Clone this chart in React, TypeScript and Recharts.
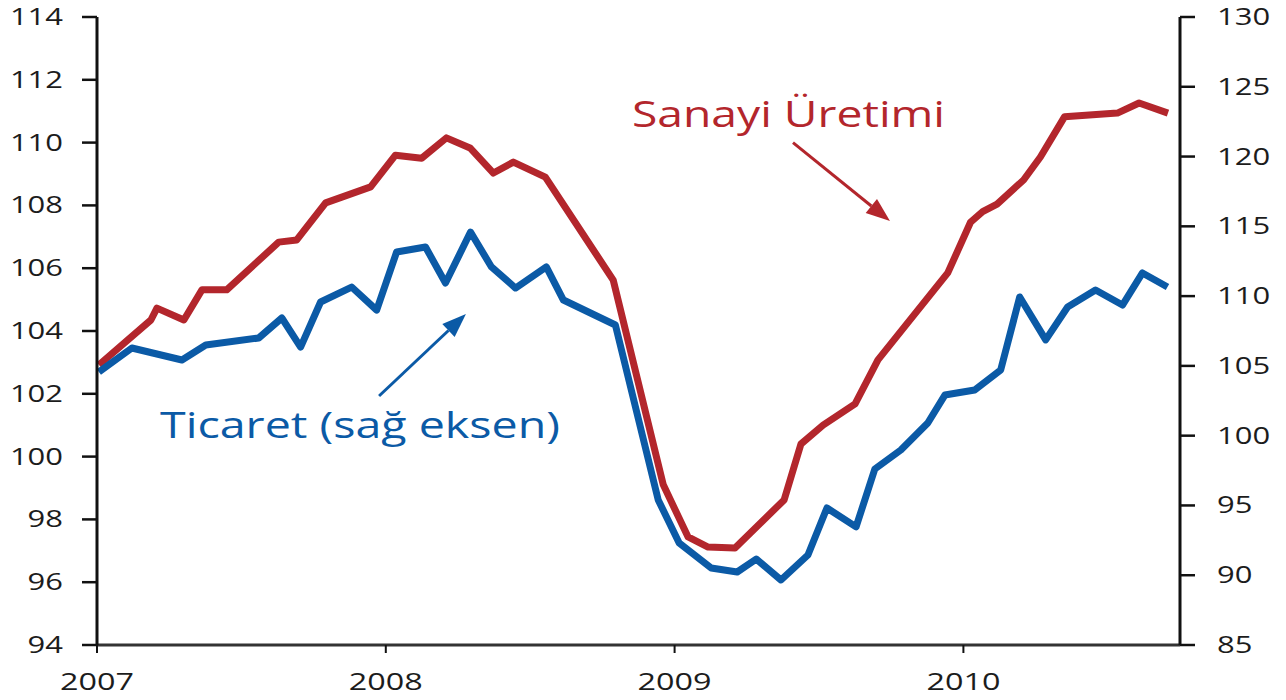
import React from "react";
import {
  LineChart,
  Line,
  XAxis,
  YAxis,
  ReferenceLine,
} from "recharts";

/* ---------------- DATA ---------------- */
// months since Jan 2007 and values
const sanayiMonths = [
  0.08, 2.24, 2.49, 3.61, 4.36, 5.39, 7.55, 8.3, 9.5, 11.37, 12.4, 13.49,
  14.52, 15.5, 16.47, 17.3, 18.63, 21.45, 23.53, 24.56, 25.39, 26.51, 28.55,
  29.25, 30.17, 31.5, 32.45, 35.35, 36.3, 36.8, 37.4, 38.5, 39.2, 40.2, 42.4,
  43.3, 44.5,
];
const sanayiValues = [
  102.92, 104.35, 104.73, 104.35, 105.31, 105.31, 106.83, 106.9, 108.08,
  108.59, 109.6, 109.5, 110.15, 109.83, 109.03, 109.38, 108.9, 105.62, 99.1,
  97.44, 97.12, 97.09, 98.62, 100.4, 101.0, 101.68, 103.08, 105.85, 107.47,
  107.8, 108.04, 108.81, 109.54, 110.82, 110.94, 111.26, 110.94,
];

const ticaretMonths = [
  0.08, 1.45, 3.53, 4.52, 6.72, 7.68, 8.46, 9.29, 10.58, 11.62, 12.45, 13.65,
  14.48, 15.52, 16.39, 17.39, 18.67, 19.38, 21.54, 23.32, 24.19, 25.52, 26.6,
  27.39, 28.42, 29.54, 30.33, 31.54, 32.32, 33.4, 34.52, 35.23, 36.47, 37.55,
  38.34, 39.42, 40.33, 41.49, 42.61, 43.44, 44.48,
];
const ticaretValues = [
  104.56, 106.28, 105.42, 106.5, 107.0, 108.43, 106.35, 109.58, 110.65, 109.0,
  113.16, 113.52, 110.94, 114.59, 112.09, 110.58, 112.09, 109.72, 107.93,
  95.39, 92.31, 90.52, 90.23, 91.16, 89.66, 91.45, 94.82, 93.46, 97.61, 98.97,
  100.91, 102.91, 103.27, 104.71, 109.94, 106.86, 109.22, 110.44, 109.36,
  111.66, 110.65,
];

const yearTicks = [0, 12, 24, 36];
const yearLabels = ["2007", "2008", "2009", "2010"];
const leftTicks = [94, 96, 98, 100, 102, 104, 106, 108, 110, 112, 114];
const rightTicks = [85, 90, 95, 100, 105, 110, 115, 120, 125, 130];

// annotation arrows: [month, left-axis value] start -> end
const sanayiArrow = [
  [28.92, 110.0],
  [32.95, 107.5],
];
const ticaretArrow = [
  [11.72, 101.93],
  [15.33, 104.54],
];

/* ---------------- STYLE ---------------- */
const RED = "#b3262c";
const BLUE = "#0b5aa6";
const FONT = "'Open Sans', 'Noto Sans', sans-serif";

const sanayiData = sanayiMonths.map((m, i) => ({ m, v: sanayiValues[i] }));
const ticaretData = ticaretMonths.map((m, i) => ({ m, v: ticaretValues[i] }));

/* ---------------- TICKS ---------------- */
const makeTick =
  (anchor: "start" | "end" | "middle", perChar: number, dy: number, fmt?: (v: number) => string) =>
  (props: any) => {
    const { x, y, payload } = props;
    const label = fmt ? fmt(payload.value) : String(payload.value);
    return (
      <text
        x={x}
        y={y}
        dy={dy}
        textAnchor={anchor}
        textLength={label.length * perChar}
        lengthAdjust="spacingAndGlyphs"
        fontSize={24}
        fontFamily={FONT}
        fill="#1c1c1c"
      >
        {label}
      </text>
    );
  };

const yearFmt = (v: number) => yearLabels[yearTicks.indexOf(v)] ?? "";

/* ---------------- ARROW ---------------- */
const arrowShape = (color: string) => (props: any) => {
  const { x1, y1, x2, y2 } = props;
  if ([x1, y1, x2, y2].some((n) => n == null || isNaN(n))) return <g />;
  const ang = Math.atan2(y2 - y1, x2 - x1);
  const head = 24;
  const half = 9;
  const bx = x2 - head * Math.cos(ang);
  const by = y2 - head * Math.sin(ang);
  const px = -Math.sin(ang) * half;
  const py = Math.cos(ang) * half;
  return (
    <g>
      <line x1={x1} y1={y1} x2={bx} y2={by} stroke={color} strokeWidth={3} />
      <polygon
        points={`${x2},${y2} ${bx + px},${by + py} ${bx - px},${by - py}`}
        fill={color}
      />
    </g>
  );
};

/* ---------------- COMPONENT ---------------- */
export default function App() {
  return (
    <div style={{ position: "absolute", left: 0, top: 0, width: 1286, height: 700, background: "#fff" }}>
      <LineChart
        width={1286}
        height={700}
        margin={{ top: 17, right: 0, bottom: 0, left: 0 }}
      >
        <XAxis
          type="number"
          dataKey="m"
          domain={[0, 45]}
          ticks={yearTicks}
          allowDataOverflow
          height={55}
          stroke="#333"
          strokeWidth={3}
          tickSize={8}
          tickMargin={20}
          tickLine={{ stroke: "#111", strokeWidth: 2 }}
          tick={makeTick("middle", 18.5, 17, yearFmt)}
        />
        <YAxis
          yAxisId="left"
          orientation="left"
          domain={[94, 114]}
          ticks={leftTicks}
          width={97}
          stroke="#111"
          strokeWidth={3}
          tickSize={15}
          tickMargin={19}
          tickLine={{ stroke: "#111", strokeWidth: 2.5 }}
          tick={makeTick("end", 17.7, 8)}
        />
        <YAxis
          yAxisId="right"
          orientation="right"
          domain={[85, 130]}
          ticks={rightTicks}
          width={106}
          stroke="#111"
          strokeWidth={3}
          tickSize={15}
          tickMargin={22}
          tickLine={{ stroke: "#111", strokeWidth: 2.5 }}
          tick={makeTick("start", 17.7, 8)}
        />

        <Line
          data={sanayiData}
          yAxisId="left"
          dataKey="v"
          stroke={RED}
          strokeWidth={7}
          dot={false}
          strokeLinejoin="round"
          isAnimationActive={false}
        />
        <Line
          data={ticaretData}
          yAxisId="right"
          dataKey="v"
          stroke={BLUE}
          strokeWidth={7}
          dot={false}
          strokeLinejoin="round"
          isAnimationActive={false}
        />

        <ReferenceLine
          yAxisId="left"
          segment={sanayiArrow.map(([x, y]) => ({ x, y }))}
          shape={arrowShape(RED)}
        />
        <ReferenceLine
          yAxisId="left"
          segment={ticaretArrow.map(([x, y]) => ({ x, y }))}
          shape={arrowShape(BLUE)}
        />
      </LineChart>

      {/* annotations */}
      <svg
        width={1286}
        height={700}
        style={{ position: "absolute", left: 0, top: 0, pointerEvents: "none" }}
      >
        <text
          x={632}
          y={127}
          fontSize={36}
          fontFamily={FONT}
          fill={RED}
          textLength={313}
          lengthAdjust="spacingAndGlyphs"
        >
          Sanayi Üretimi
        </text>
        <text
          x={160}
          y={438}
          fontSize={36}
          fontFamily={FONT}
          fill={BLUE}
          textLength={400}
          lengthAdjust="spacingAndGlyphs"
        >
          Ticaret (sağ eksen)
        </text>
      </svg>
    </div>
  );
}
